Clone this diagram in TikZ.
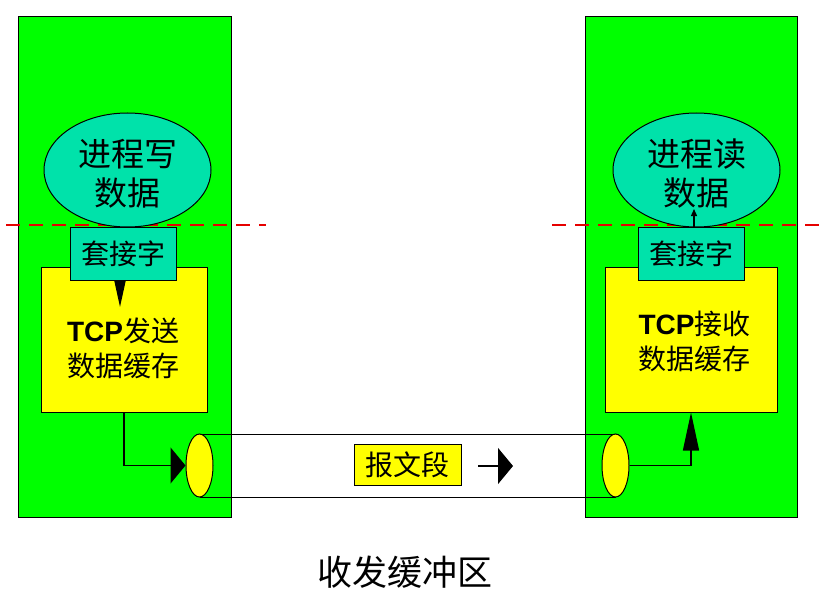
\documentclass[tikz,border=0pt]{standalone}
\usepackage{fontspec}
\setmainfont{Noto Sans CJK SC}
\newfontfamily\latinbold{Liberation Sans}
\usetikzlibrary{shapes.geometric,arrows.meta}
\definecolor{grn}{RGB}{0,255,0}
\definecolor{tealc}{RGB}{0,226,170}
\definecolor{yel}{RGB}{255,255,0}
\definecolor{dred}{RGB}{230,0,0}
\begin{document}
\begin{tikzpicture}[x=1pt,y=-1pt,line width=1pt,
  hostbox/.style={draw=black,fill=grn,rectangle,inner sep=0pt},
  procell/.style={draw=black,fill=tealc,ellipse,inner sep=0pt,minimum width=167pt,minimum height=114pt},
  proctext/.style={align=center,inner sep=0pt,font=\fontsize{33pt}{39pt}\selectfont},
  sockbox/.style={draw=black,fill=tealc,rectangle,inner sep=0pt,minimum width=106pt,minimum height=53pt,font=\fontsize{28pt}{32pt}\selectfont},
  bufbox/.style={draw=black,fill=yel,rectangle,inner sep=0pt,minimum height=145pt},
  buftext/.style={align=center,inner sep=0pt,font=\fontsize{28pt}{35pt}\selectfont},
  pipeend/.style={draw=black,fill=yel,ellipse,inner sep=0pt,minimum width=27pt,minimum height=63pt},
  segbox/.style={draw=black,fill=yel,rectangle,inner sep=0pt,minimum width=107pt,minimum height=41pt,font=\fontsize{28pt}{32pt}\selectfont},
  sepline/.style={color=dred,line width=1.2pt,dash pattern=on 14pt off 9pt},
  conn/.style={draw=black,line width=1.3pt}
]
\useasboundingbox (0,0) rectangle (828,594);
\fill[white] (0,0) rectangle (828,594);

% hosts
\node[hostbox,minimum width=213pt,minimum height=500pt] (hostL) at (124.5,267) {};
\node[hostbox,minimum width=212pt,minimum height=500pt] (hostR) at (691,267) {};

% separator lines
\draw[sepline] (6,225) -- (266,225);
\draw[sepline] (552,225) -- (828,225);

% processes
\node[procell] (procL) at (127.5,170) {};
\node[proctext] (procLtxt) at (127.5,174) {进程写\\数据};
\node[procell] (procR) at (696.5,170) {};
\node[proctext] (procRtxt) at (696.5,174) {进程读\\数据};

% buffers
\node[bufbox,minimum width=166pt] (bufL) at (124,339.5) {};
\node[bufbox,minimum width=172pt] (bufR) at (691,339.5) {};
\node[buftext] (bufLtxt) at (123,348) {{\latinbold\bfseries TCP}发送\\数据缓存};
\node[buftext] (bufRtxt) at (694.5,341) {{\latinbold\bfseries TCP}接收\\数据缓存};

% sockets
\node[sockbox] (sockL) at (123,253.5) {套接字};
\node[sockbox] (sockR) at (691.5,253.5) {套接字};

% pipe
\coordinate (pipeLc) at (199.5,465.5);
\coordinate (pipeRc) at (615.5,465.5);
\draw[line width=1pt] ([yshift=-31.5pt]pipeLc) -- ([yshift=-31.5pt]pipeRc);
\draw[line width=1pt] ([yshift=31.5pt]pipeLc) -- ([yshift=31.5pt]pipeRc);
\node[pipeend] (pipeL) at (pipeLc) {};
\node[pipeend] (pipeR) at (pipeRc) {};

\node[segbox] (seg) at (407.5,464.5) {报文段};

% connectors
\coordinate (sockLtip) at (120,307);
\draw[conn,-{Triangle[length=26pt,width=11pt]}] ([xshift=-3pt]sockL.south) -- (sockLtip);

\draw[conn,-{Triangle[length=15pt,width=36pt]}] (bufL.south) |- (pipeL.west);
\draw[conn,-{Triangle[length=38pt,width=16pt]}] (pipeR.east) -| (bufR.south);

\coordinate (segA) at (478,466);
\coordinate (segB) at (513,466);
\draw[conn,-{Triangle[length=15pt,width=36pt]}] (segA) -- (segB);

\coordinate (procRin) at (694,209);
\draw[conn,-{Triangle[length=7pt,width=6pt]}] ([xshift=2.5pt]sockR.north) -- (procRin);

% caption
\node[font=\fontsize{35pt}{40pt}\selectfont,inner sep=0pt] (cap) at (405,572) {收发缓冲区};
\end{tikzpicture}
\end{document}
